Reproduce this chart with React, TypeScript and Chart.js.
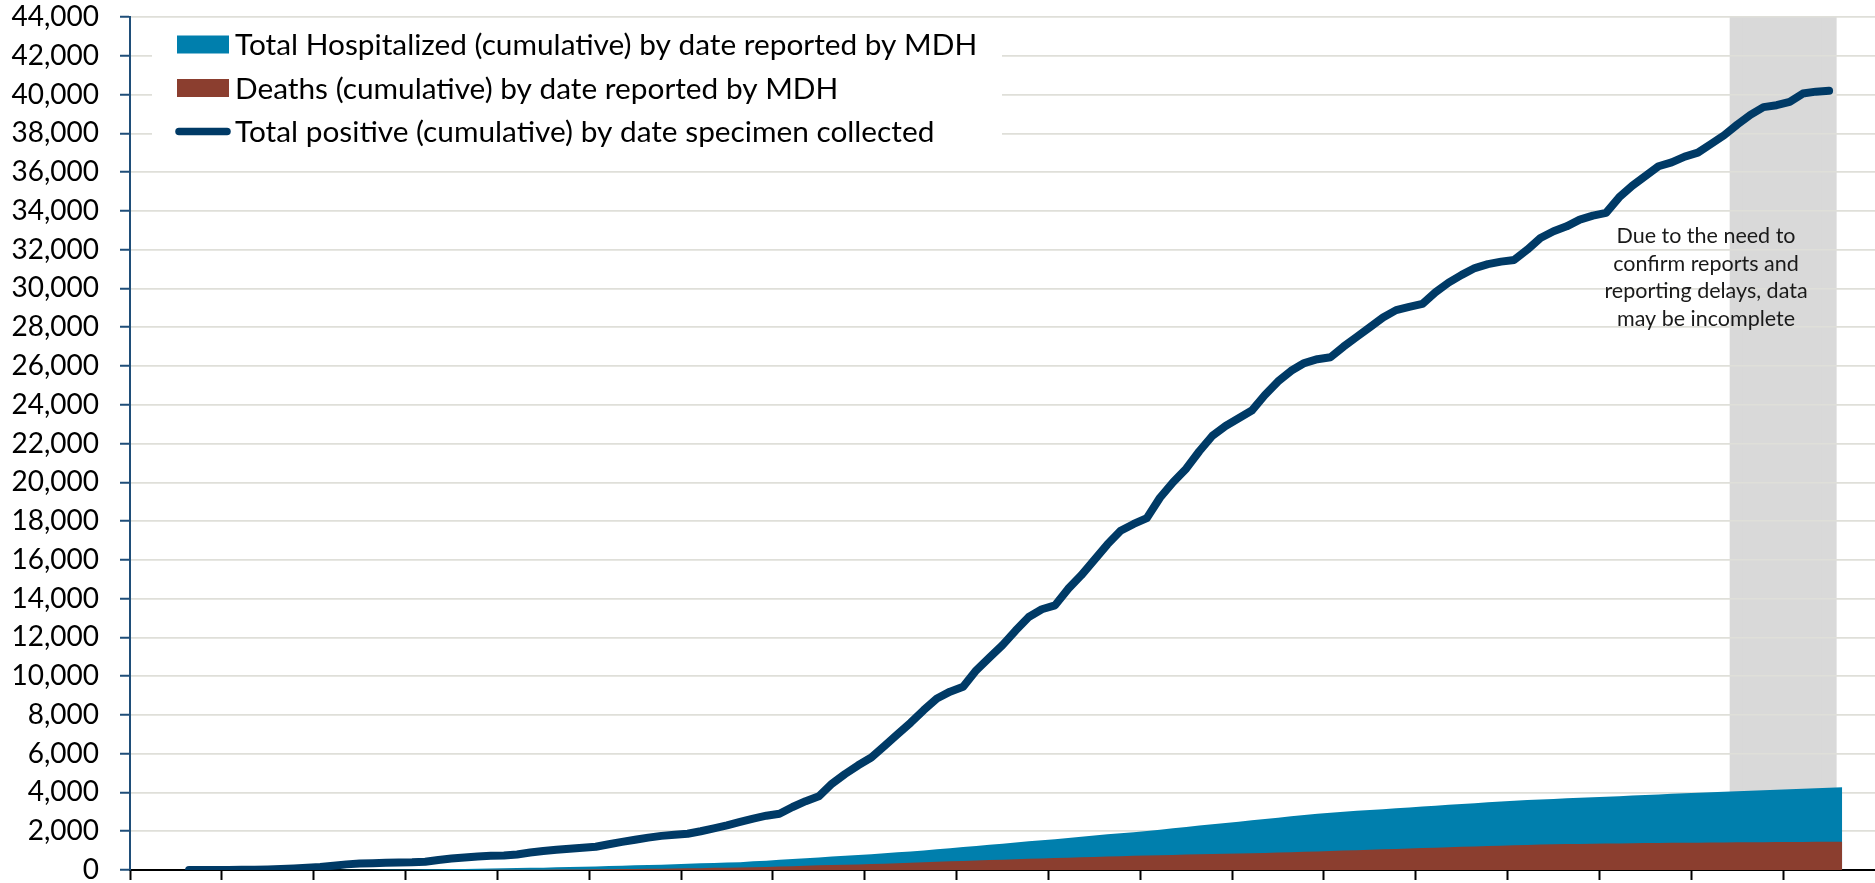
import { useEffect, useRef } from 'react';
import { Chart, registerables } from 'chart.js';

Chart.register(...registerables);

// ---- Categories: one per day, 2020-03-01 .. 2020-07-11 ----
const START_DAY = '2020-03-01';
const DAY_COUNT = 133;
const dates: string[] = [];
for (let i = 0; i < DAY_COUNT; i++) {
  const [y, m, d] = START_DAY.split('-').map(Number);
  dates.push(new Date(Date.UTC(y, m - 1, d + i)).toISOString().slice(0, 10));
}

// ---- Y axis ----
const Y_MIN = 0;
const Y_MAX = 44000;
const Y_STEP = 2000;

// ---- Series ----
const totalPositive: (number | null)[] = [
  null, null, null, null,
  1, 2, 4, 6, 10, 18, 30, 50, 80, 120, 160, 220, 290, 330, 350, 370, 390, 400,
  430, 520, 590, 650, 700, 730, 745, 800, 900, 980, 1040, 1100, 1150, 1200,
  1330, 1450, 1560, 1670, 1760, 1820, 1870, 2000, 2150, 2300, 2480, 2650, 2800, 2900,
  3250, 3550, 3800, 4450, 4950, 5400, 5800, 6400, 7000, 7600, 8250, 8850, 9200, 9450,
  10300, 10950, 11600, 12350, 13050, 13450, 13650, 14500, 15200, 16000, 16800, 17500, 17850, 18150,
  19200, 20000, 20700, 21600, 22400, 22900, 23300, 23700, 24500, 25200, 25750, 26150, 26350, 26450,
  27000, 27500, 28000, 28500, 28880, 29050, 29200, 29800, 30300, 30700, 31050, 31250, 31380, 31470,
  32000, 32600, 32950, 33200, 33550, 33750, 33900, 34700, 35300, 35800, 36300, 36500, 36800, 37000,
  37450, 37900, 38450, 38950, 39350, 39450, 39620, 40050, 40150, 40200,
  null, null, null,
];

const totalHospitalized: (number | null)[] = [
  null, null, null, null, null, null, null, null, null, null, null, null, null, null, null,
  5, 8, 12, 15, 20, 25, 30, 35, 41, 51, 57, 64, 75, 92, 105, 112, 122, 138, 156, 172, 180,
  202, 223, 242, 260, 275, 299, 319, 342, 361, 386, 405, 445, 477, 523, 570, 610, 650, 690,
  730, 770, 810, 860, 910, 960, 1010, 1070, 1120, 1180, 1240, 1300, 1360, 1420, 1480, 1540,
  1590, 1650, 1720, 1780, 1840, 1900, 1950, 2010, 2080, 2150, 2220, 2290, 2360, 2430, 2490,
  2560, 2630, 2700, 2770, 2840, 2900, 2955, 3005, 3050, 3095, 3140, 3185, 3230, 3273, 3316,
  3360, 3403, 3446, 3490, 3532, 3575, 3605, 3635, 3665, 3695, 3725, 3755, 3780, 3810, 3840,
  3870, 3900, 3930, 3960, 3985, 4010, 4035, 4060, 4085, 4110, 4135, 4165, 4190, 4215, 4240, 4265,
  null, null,
];

const deaths: (number | null)[] = [
  null, null, null, null, null, null, null, null, null, null,
  null, null, null, null, null, null, null, null, null, null,
  1, 1, 1, 1, 2, 4, 5, 9, 10, 12, 17, 18, 22, 24, 29, 34, 39, 50, 57, 64, 70, 79, 87, 94,
  111, 121, 134, 143, 160, 179, 199, 221, 244, 260, 275, 290, 305, 325, 345, 370, 395, 420,
  445, 470, 495, 515, 535, 555, 575, 595, 615, 635, 655, 675, 695, 715, 735, 750, 765, 780,
  795, 808, 820, 833, 846, 860, 878, 897, 917, 938, 960, 982, 1003, 1025, 1046, 1067, 1088,
  1109, 1130, 1151, 1172, 1193, 1214, 1235, 1256, 1277, 1296, 1312, 1324, 1335, 1345, 1355,
  1365, 1372, 1380, 1387, 1394, 1400, 1405, 1410, 1415, 1420, 1425, 1430, 1435, 1440, 1445,
  1450, 1455, 1458, 1460,
  null, null,
];

// Shaded period: data may be incomplete
const INCOMPLETE_FROM = '2020-07-01';
const INCOMPLETE_TO = '2020-07-08';
const incompleteShade = dates.map((d) => (d >= INCOMPLETE_FROM && d <= INCOMPLETE_TO ? Y_MAX : null));

const LABEL_HOSP = 'Total Hospitalized (cumulative) by date reported by MDH';
const LABEL_DEATHS = 'Deaths (cumulative) by date reported by MDH';
const LABEL_POS = 'Total positive (cumulative) by date specimen collected';
const NOTE_LINES = ['Due to the need to', 'confirm reports and', 'reporting delays, data', 'may be incomplete'];

const NAVY = '#003A66';
const TEAL = '#007FAD';
const BROWN = '#8B3E2F';
const SHADE = '#D9D9D9';
const GRID = '#DFDFD9';
const FONT = 'Lato, "Open Sans", sans-serif';

const regridPlugin = {
  id: 'regridOverShade',
  afterDatasetDraw(chart: any, args: any) {
    if (args.meta.type !== 'bar') return;
    const bars = args.meta.data.filter((b: any) => b && !b.skip && Number.isFinite(b.x) && Number.isFinite(b.y));
    if (!bars.length) return;
    const first = bars[0];
    const last = bars[bars.length - 1];
    const left = first.x - first.width / 2;
    const right = last.x + last.width / 2;
    const { ctx, chartArea } = chart;
    ctx.save();
    ctx.beginPath();
    ctx.rect(left, chartArea.top - 2, right - left, chartArea.bottom - chartArea.top);
    ctx.clip();
    chart.scales.y.drawGrid(chartArea);
    ctx.restore();
  },
};

const overlayPlugin = {
  id: 'legendAndNote',
  afterDatasetsDraw(chart: any) {
    const { ctx, chartArea } = chart;
    const x0 = chartArea.left;
    const y0 = chartArea.top;
    ctx.save();
    // legend box
    ctx.fillStyle = '#ffffff';
    ctx.fillRect(x0 + 22, y0 + 4, 850, 130);
    const ds = chart.data.datasets;
    ctx.font = `29.8px ${FONT}`;
    ctx.textBaseline = 'middle';
    ctx.textAlign = 'left';
    for (let k = 0; k < 3; k++) {
      const d = ds[k];
      const cy = y0 + 27.5 + k * 43.5;
      if (d.fill) {
        ctx.fillStyle = d.backgroundColor;
        ctx.fillRect(x0 + 47, cy - 9, 52, 18);
      } else {
        ctx.strokeStyle = d.borderColor;
        ctx.lineWidth = 7.5;
        ctx.lineCap = 'round';
        ctx.beginPath();
        ctx.moveTo(x0 + 49, cy);
        ctx.lineTo(x0 + 97, cy);
        ctx.stroke();
      }
      ctx.fillStyle = '#000000';
      ctx.fillText(d.label, x0 + 105, cy + 1);
    }
    // note
    ctx.font = `21.5px ${FONT}`;
    ctx.textAlign = 'center';
    ctx.fillStyle = '#1a1a1a';
    const cx = chartArea.right - 169;
    NOTE_LINES.forEach((line, i) => {
      ctx.fillText(line, cx, y0 + 219 + i * 27.6);
    });
    ctx.restore();
  },
};

export default function App() {
  const canvasRef = useRef<HTMLCanvasElement | null>(null);

  useEffect(() => {
    if (!canvasRef.current) return;
    Chart.defaults.font.family = FONT;
    const chart = new Chart(canvasRef.current, {
      type: 'line',
      data: {
        labels: dates,
        datasets: [
          {
            type: 'line',
            label: LABEL_HOSP,
            data: totalHospitalized,
            backgroundColor: TEAL,
            borderColor: TEAL,
            borderWidth: 0,
            pointRadius: 0,
            fill: 'origin',
            tension: 0,
            order: 2,
          },
          {
            type: 'line',
            label: LABEL_DEATHS,
            data: deaths,
            backgroundColor: BROWN,
            borderColor: BROWN,
            borderWidth: 0,
            pointRadius: 0,
            fill: 'origin',
            tension: 0,
            order: 1,
          },
          {
            type: 'line',
            label: LABEL_POS,
            data: totalPositive,
            borderColor: NAVY,
            backgroundColor: NAVY,
            borderWidth: 8,
            borderCapStyle: 'round',
            borderJoinStyle: 'round',
            pointRadius: 0,
            fill: false,
            tension: 0,
            order: 0,
          },
          {
            type: 'bar',
            label: 'shade',
            data: incompleteShade,
            backgroundColor: SHADE,
            borderWidth: 0,
            barPercentage: 1,
            categoryPercentage: 1,
            inflateAmount: 1,
            order: 3,
          } as any,
        ],
      },
      options: {
        responsive: false,
        animation: false,
        devicePixelRatio: 1,
        layout: { padding: { top: 17, left: 0, right: 0, bottom: 0 } },
        plugins: {
          legend: { display: false },
          tooltip: { enabled: false },
          title: { display: false },
        },
        scales: {
          x: {
            type: 'category',
            offset: true,
            grid: {
              offset: true,
              drawOnChartArea: false,
              drawTicks: true,
              tickLength: 10,
              tickWidth: 2,
              tickColor: (ctx: any) => (ctx.index % 7 === 0 ? '#000000' : 'rgba(0,0,0,0)'),
            },
            border: { color: '#000000', width: 2 },
            ticks: { display: false, autoSkip: false },
            afterFit: (scale: any) => {
              scale.height = 13;
              scale.paddingLeft = 0;
              scale.paddingRight = 0;
            },
          },
          y: {
            min: Y_MIN,
            max: Y_MAX,
            grid: {
              color: GRID,
              lineWidth: 1.5,
              tickColor: '#1F4E79',
              tickLength: 10,
              tickWidth: 2,
            },
            border: { color: '#1F4E79', width: 2 },
            ticks: {
              stepSize: Y_STEP,
              autoSkip: false,
              padding: 21,
              color: '#000000',
              font: { size: 28, family: FONT },
              callback: (v: any) => Number(v).toLocaleString('en-US'),
            },
            afterFit: (scale: any) => {
              scale.width = 130;
              scale.paddingTop = 0;
              scale.paddingBottom = 0;
            },
          },
        },
      },
      plugins: [regridPlugin, overlayPlugin],
    } as any);
    return () => chart.destroy();
  }, []);

  return (
    <div style={{ position: 'fixed', left: 0, top: 0, width: 1875, height: 883, background: '#fff' }}>
      <canvas ref={canvasRef} width={1875} height={883} style={{ display: 'block' }} />
    </div>
  );
}
